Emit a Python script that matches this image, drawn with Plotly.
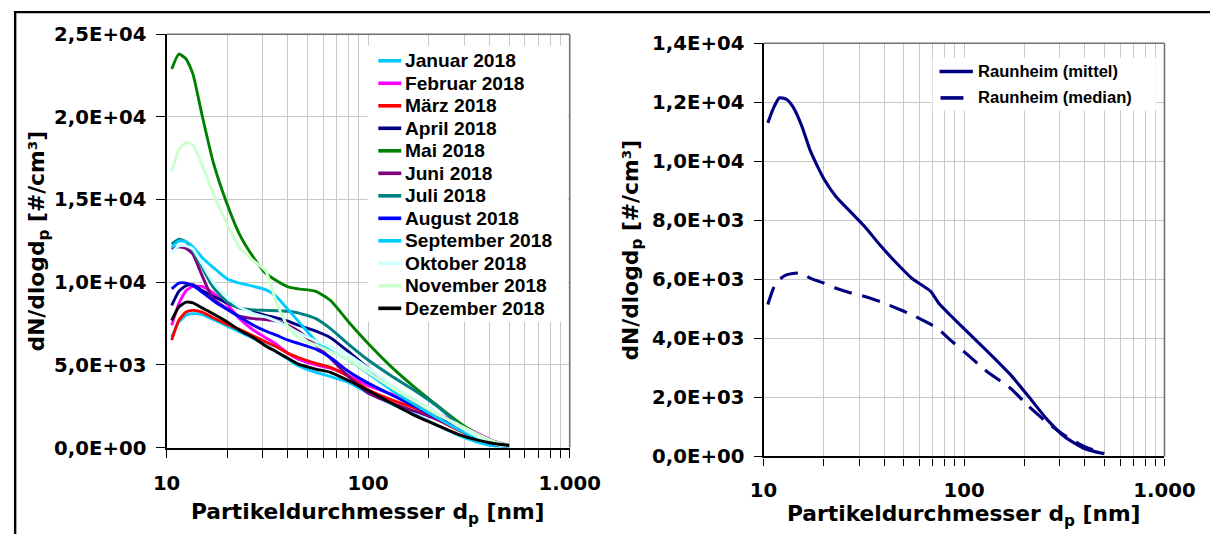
import plotly.graph_objects as go

# layout helpers: positions are written in screen pixels of the final picture
# and mapped onto the figure canvas (scale / offset of the page as it is shown)
SCALE_X, OFFSET_X = 0.967, 11.5
SCALE_Y, OFFSET_Y = 0.962, 10.0
SCALE = (SCALE_X + SCALE_Y) / 2
FIG_W, FIG_H = 1246, 546

# ---- monthly mean size distributions (left panel) ----
diameters_month = [10.6, 11.5, 12.5, 13.5, 15, 17, 20, 23, 27, 31, 35, 40, 45,
                   55, 65, 80, 100, 130, 170, 220, 280, 350, 420, 500]

januar = [6700, 7600, 8000, 8100, 8050, 7750, 7350, 7000, 6600, 6200, 5800, 5350,
          4950, 4550, 4300, 3950, 3300, 2650, 2000, 1350, 750, 320, 100, 10]
februar = [7400, 8700, 9500, 9750, 9750, 9350, 8650, 7800, 7100, 6650, 6250, 5700,
           5350, 5000, 4800, 4350, 3750, 3250, 2700, 2050, 1450, 850, 400, 130]
maerz = [6500, 7700, 8200, 8300, 8200, 7850, 7450, 7150, 6750, 6400, 6100, 5700,
         5450, 5100, 4850, 4300, 3500, 2900, 2400, 1700, 1050, 550, 200, 50]
april = [8600, 9450, 9800, 9850, 9500, 9150, 8750, 8450, 8200, 8000, 7850, 7650,
         7400, 7050, 6650, 5800, 4800, 3700, 2800, 2000, 1250, 650, 250, 60]
mai = [22900, 23800, 23500, 22600, 20100, 17300, 14700, 12900, 11500, 10550, 10100, 9720,
       9600, 9450, 8900, 7600, 6300, 4900, 3650, 2550, 1550, 800, 380, 130]
juni = [12000, 12150, 12050, 11700, 10400, 9000, 8400, 7950, 7800, 7750, 7650, 7400,
        7050, 6200, 5400, 4300, 3300, 2700, 2200, 1700, 1150, 650, 300, 80]
juli = [12300, 12600, 12450, 11900, 10900, 9700, 8800, 8450, 8330, 8300, 8280, 8250,
        8150, 7800, 7200, 6250, 5300, 4350, 3450, 2500, 1450, 800, 350, 100]
august = [9600, 9950, 9950, 9800, 9400, 8900, 8350, 7900, 7400, 7050, 6800, 6500,
          6300, 5950, 5450, 4600, 3900, 3200, 2500, 1800, 1100, 550, 200, 40]
september = [12100, 12500, 12450, 12150, 11500, 10900, 10200, 9950, 9750, 9550, 9150, 8350,
             7650, 6450, 5850, 5300, 4500, 3500, 2600, 1800, 1100, 550, 200, 30]
oktober = [11800, 12200, 12200, 12000, 11100, 10000, 9100, 8500, 8100, 7900, 7650, 7300,
           6950, 6450, 6100, 5600, 4800, 3800, 2900, 2100, 1300, 650, 250, 50]
november = [16700, 18000, 18450, 18300, 17100, 15400, 13500, 12100, 11300, 10700, 8800, 7300,
            6650, 6200, 5800, 5320, 4550, 3650, 2800, 2000, 1400, 800, 380, 100]
dezember = [7700, 8500, 8800, 8750, 8450, 8100, 7600, 7100, 6650, 6150, 5800, 5400,
            5050, 4750, 4550, 4050, 3450, 2700, 1950, 1350, 800, 450, 250, 130]

month_names = ["Januar 2018", "Februar 2018", "März 2018", "April 2018", "Mai 2018",
               "Juni 2018", "Juli 2018", "August 2018", "September 2018",
               "Oktober 2018", "November 2018", "Dezember 2018"]
month_colors = ["#00CCFF", "#FF00FF", "#FF0000", "#000080", "#008000", "#800080",
                "#008080", "#0000FF", "#00CCFF", "#CCFFFF", "#CCFFCC", "#000000"]
month_series = [januar, februar, maerz, april, mai, juni, juli, august,
                september, oktober, november, dezember]

# ---- annual statistics at Raunheim (right panel) ----
diameters_station = [10.5, 11.2, 12, 13, 14, 15.5, 17, 18.5, 20, 23, 27, 32, 38, 45,
                     55, 68, 75, 85, 100, 130, 170, 210, 260, 320, 400, 500]
raunheim_mittel = [11300, 11800, 12150, 12100, 11850, 11200, 10400, 9850, 9400, 8800,
                   8300, 7780, 7170, 6620, 6030, 5600, 5180, 4800, 4330, 3580, 2780,
                   2030, 1250, 650, 260, 90]
raunheim_median = [5150, 5700, 6000, 6150, 6200, 6210, 6050, 5950, 5870, 5700, 5550,
                   5420, 5250, 5050, 4800, 4480, 4300, 3960, 3550, 2880, 2320, 1700,
                   1150, 700, 330, 100]
station_names = ["Raunheim (mittel)", "Raunheim (median)"]
station_color = "#000080"

# ---- tick labels ----
x_tick_values = [10, 20, 30, 40, 50, 60, 70, 80, 90,
                 100, 200, 300, 400, 500, 600, 700, 800, 900, 1000]
x_tick_text = ["10", "", "", "", "", "", "", "", "",
               "100", "", "", "", "", "", "", "", "", "1.000"]
y1_tick_values = [0, 5000, 10000, 15000, 20000, 25000]
y1_tick_text = ["0,0E+00", "5,0E+03", "1,0E+04", "1,5E+04", "2,0E+04", "2,5E+04"]
y2_tick_values = [0, 2000, 4000, 6000, 8000, 10000, 12000, 14000]
y2_tick_text = ["0,0E+00", "2,0E+03", "4,0E+03", "6,0E+03", "8,0E+03",
                "1,0E+04", "1,2E+04", "1,4E+04"]

x_title = "Partikeldurchmesser d<sub>p</sub> [nm]"
y_title = "dN/dlogd<sub>p</sub> [#/cm³]"


def fx(px):
    """screen x pixel -> paper fraction"""
    return ((px - OFFSET_X) / SCALE_X) / FIG_W


def fy(py):
    """screen y pixel -> paper fraction"""
    return 1 - ((py - OFFSET_Y) / SCALE_Y) / FIG_H


def sz(v):
    """screen size -> canvas size"""
    return v / SCALE


GRID = "#C8C8C8"
AXIS_FONT = "DejaVu Sans"
LEGEND_FONT = "Liberation Sans"

fig = go.Figure()

for name, color, values in zip(month_names, month_colors, month_series):
    fig.add_trace(go.Scatter(x=diameters_month, y=values, mode="lines", name=name,
                             line=dict(color=color, width=sz(2.8),
                                       shape="spline", smoothing=0.5),
                             xaxis="x", yaxis="y", showlegend=False))

fig.add_trace(go.Scatter(x=diameters_station, y=raunheim_mittel, mode="lines",
                         name=station_names[0],
                         line=dict(color=station_color, width=sz(3),
                                   shape="spline", smoothing=0.5),
                         xaxis="x2", yaxis="y2", showlegend=False))
fig.add_trace(go.Scatter(x=diameters_station, y=raunheim_median, mode="lines",
                         name=station_names[1],
                         line=dict(color=station_color, width=sz(3),
                                   shape="spline", smoothing=0.5,
                                   dash=f"{sz(18):.1f}px,{sz(10):.1f}px"),
                         xaxis="x2", yaxis="y2", showlegend=False))

tick_font = dict(family=AXIS_FONT, size=sz(19), color="black", weight="bold")


def x_axis(domain, ticklen):
    return dict(domain=domain, type="log", range=[1, 3],
                tickmode="array", tickvals=x_tick_values, ticktext=x_tick_text,
                showgrid=True, gridcolor=GRID, gridwidth=1,
                showline=True, linecolor="black", linewidth=sz(2),
                ticks="outside", ticklen=sz(ticklen), tickwidth=sz(1.2),
                tickcolor="black", tickfont=tick_font,
                ticklabelstandoff=round(sz(8)), zeroline=False)


def y_axis(domain, rng, vals, text, ticklen):
    return dict(domain=domain, range=rng, tickmode="array",
                tickvals=vals, ticktext=text,
                showgrid=True, gridcolor=GRID, gridwidth=1,
                showline=True, linecolor="black", linewidth=sz(2),
                ticks="outside", ticklen=sz(ticklen), tickwidth=sz(1.2),
                tickcolor="black", tickfont=tick_font,
                ticklabelstandoff=round(sz(6)), zeroline=False)


fig.update_layout(
    width=FIG_W, height=FIG_H,
    margin=dict(l=0, r=0, t=0, b=0),
    paper_bgcolor="white", plot_bgcolor="white",
    showlegend=False,
    xaxis=x_axis([fx(164.6), fx(569)], 8),
    yaxis=y_axis([fy(448.5), fy(33.3)], [0, 25000], y1_tick_values, y1_tick_text, 8),
    xaxis2=x_axis([fx(763.5), fx(1165.7)], 7) | dict(anchor="y2"),
    yaxis2=y_axis([fy(457.4), fy(42.3)], [0, 14000], y2_tick_values, y2_tick_text, 7)
    | dict(anchor="x2"),
)

shapes = []
# top and right edges of both plot areas
for xr, yr in (("x", "y"), ("x2", "y2")):
    shapes.append(dict(type="line", xref=f"{xr} domain", yref=f"{yr} domain",
                       x0=0, x1=1, y0=1, y1=1,
                       line=dict(color="#707070", width=sz(1.5))))
    shapes.append(dict(type="line", xref=f"{xr} domain", yref=f"{yr} domain",
                       x0=1, x1=1, y0=0, y1=1,
                       line=dict(color="#707070", width=sz(1.5))))

# outer frame (top and left edge)
shapes.append(dict(type="line", xref="paper", yref="paper",
                   x0=0, x1=1, y0=1 - 1.2 / FIG_H, y1=1 - 1.2 / FIG_H,
                   line=dict(color="black", width=2.4)))
shapes.append(dict(type="line", xref="paper", yref="paper",
                   x0=1.2 / FIG_W, x1=1.2 / FIG_W, y0=1, y1=0,
                   line=dict(color="black", width=2.4)))

# legend backgrounds
shapes.append(dict(type="rect", xref="paper", yref="paper",
                   x0=fx(366), x1=fx(567), y0=fy(322), y1=fy(45),
                   fillcolor="white", line=dict(width=0)))
shapes.append(dict(type="rect", xref="paper", yref="paper",
                   x0=fx(933), x1=fx(1157), y0=fy(110), y1=fy(57),
                   fillcolor="white", line=dict(width=0)))

annotations = []

# left legend
for i, (name, color) in enumerate(zip(month_names, month_colors)):
    row_y = 60 + 22.6 * i
    shapes.append(dict(type="line", xref="paper", yref="paper",
                       x0=fx(377), x1=fx(400), y0=fy(row_y), y1=fy(row_y),
                       line=dict(color=color, width=sz(3.5))))
    annotations.append(dict(text=name, xref="paper", yref="paper",
                            x=fx(402), y=fy(row_y), xanchor="left", yanchor="middle",
                            showarrow=False,
                            font=dict(family=LEGEND_FONT, size=sz(18.5), color="black",
                                      weight="bold")))

# right legend
for i, name in enumerate(station_names):
    row_y = 70.7 + 26.6 * i
    x_end = 973.5 if i == 0 else 964
    x_start = 940 if i == 0 else 941
    shapes.append(dict(type="line", xref="paper", yref="paper",
                       x0=fx(x_start), x1=fx(x_end), y0=fy(row_y), y1=fy(row_y),
                       line=dict(color=station_color, width=sz(3.5))))
    annotations.append(dict(text=name, xref="paper", yref="paper",
                            x=fx(977), y=fy(row_y), xanchor="left", yanchor="middle",
                            showarrow=False,
                            font=dict(family=LEGEND_FONT, size=sz(16), color="black",
                                      weight="bold")))

title_font = dict(family=AXIS_FONT, size=sz(21), color="black", weight="bold")
# axis titles
annotations.append(dict(text=x_title, xref="paper", yref="paper", x=fx(367), y=fy(515),
                        xanchor="center", yanchor="middle", showarrow=False,
                        font=title_font))
annotations.append(dict(text=x_title, xref="paper", yref="paper", x=fx(965), y=fy(517),
                        xanchor="center", yanchor="middle", showarrow=False,
                        font=title_font))
annotations.append(dict(text=y_title, xref="paper", yref="paper", x=fx(36), y=fy(241),
                        xanchor="center", yanchor="middle", textangle=-90,
                        showarrow=False, font=title_font))
annotations.append(dict(text=y_title, xref="paper", yref="paper", x=fx(632), y=fy(250),
                        xanchor="center", yanchor="middle", textangle=-90,
                        showarrow=False, font=title_font))

fig.update_layout(shapes=shapes, annotations=annotations)

fig.write_html("out.html")
